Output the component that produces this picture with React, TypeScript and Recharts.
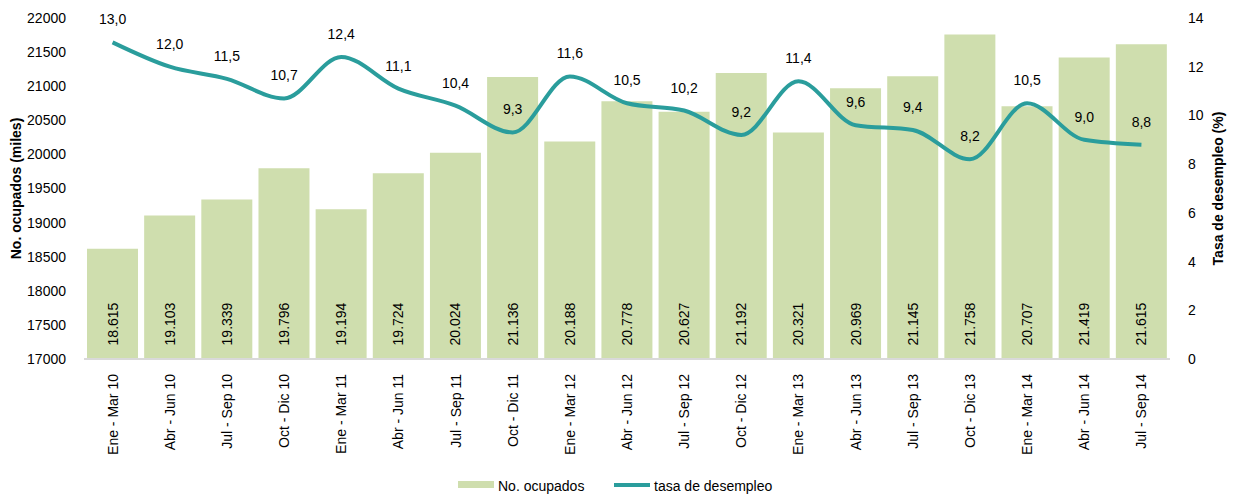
import React from "react";
import { ComposedChart, Bar, Line, XAxis, YAxis, LabelList, Legend } from "recharts";

const categories = [
  "Ene - Mar 10", "Abr - Jun 10", "Jul - Sep 10", "Oct - Dic 10",
  "Ene - Mar 11", "Abr - Jun 11", "Jul - Sep 11", "Oct - Dic 11",
  "Ene - Mar 12", "Abr - Jun 12", "Jul - Sep 12", "Oct - Dic 12",
  "Ene - Mar 13", "Abr - Jun 13", "Jul - Sep 13", "Oct - Dic 13",
  "Ene - Mar 14", "Abr - Jun 14", "Jul - Sep 14",
];
const ocupados = [18615, 19103, 19339, 19796, 19194, 19724, 20024, 21136, 20188, 20778, 20627, 21192, 20321, 20969, 21145, 21758, 20707, 21419, 21615];
const tasa = [13.0, 12.0, 11.5, 10.7, 12.4, 11.1, 10.4, 9.3, 11.6, 10.5, 10.2, 9.2, 11.4, 9.6, 9.4, 8.2, 10.5, 9.0, 8.8];
const leftTicks = [17000, 17500, 18000, 18500, 19000, 19500, 20000, 20500, 21000, 21500, 22000];
const rightTicks = [0, 2, 4, 6, 8, 10, 12, 14];

const data = categories.map((c, i) => ({ cat: c, ocupados: ocupados[i], tasa: tasa[i] }));

const FONT = "'Liberation Sans', Arial, sans-serif";
const FS = 14;
const BAR = "#cfdeae";
const LINE = "#2a9d9c";

const fmtThousands = (v: number) => {
  const s = String(v);
  return s.slice(0, s.length - 3) + "." + s.slice(s.length - 3);
};

const XTick = (props: any) => {
  const { x, y, payload } = props;
  return (
    <text x={x} y={y + 7} transform={`rotate(-90, ${x}, ${y + 7})`} textAnchor="end" dominantBaseline="central" fontSize={FS} fill="#000" fontFamily={FONT}>
      {payload.value}
    </text>
  );
};

const BarValue = (props: any) => {
  const { x, width, value } = props;
  const cx = x + width / 2;
  const cy = 324;
  return (
    <text x={cx} y={cy} transform={`rotate(-90, ${cx}, ${cy})`} textAnchor="middle" dominantBaseline="central" fontSize={FS} fill="#000" fontFamily={FONT}>
      {fmtThousands(value)}
    </text>
  );
};

const LineValue = (props: any) => {
  const { x, y, value } = props;
  return (
    <text x={x} y={y - 23} textAnchor="middle" dominantBaseline="central" fontSize={FS} fill="#000" fontFamily={FONT}>
      {value.toFixed(1).replace(".", ",")}
    </text>
  );
};

export default function App() {
  return (
    <div style={{ position: "absolute", left: 0, top: 0, width: 1238, height: 497, background: "#fff" }}>
      <ComposedChart width={1238} height={497} data={data} margin={{ top: 18, right: 0, bottom: 0, left: 0 }} barCategoryGap={3}>
        <XAxis
          dataKey="cat"
          interval={0}
          tick={<XTick />}
          tickLine={false}
          axisLine={{ stroke: "#d9d9d9", strokeWidth: 2 }}
          height={110}
        />
        <YAxis
          yAxisId="left"
          orientation="left"
          domain={[17000, 22000]}
          ticks={leftTicks}
          width={84}
          tickLine={false}
          axisLine={false}
          tickMargin={12}
          tick={{ fontSize: FS, fill: "#000", fontFamily: FONT }}
          label={{ value: "No. ocupados (miles)", angle: -90, position: "insideLeft", offset: 16, style: { fontSize: FS, fontWeight: "bold", fill: "#000", fontFamily: FONT, textAnchor: "middle" } }}
        />
        <YAxis
          yAxisId="right"
          orientation="right"
          domain={[0, 14]}
          ticks={rightTicks}
          width={68}
          tickLine={false}
          axisLine={false}
          tickMargin={12}
          tick={{ fontSize: FS, fill: "#000", fontFamily: FONT }}
          label={{ value: "Tasa de desempleo (%)", angle: -90, position: "insideRight", offset: 20, style: { fontSize: FS, fontWeight: "bold", fill: "#000", fontFamily: FONT, textAnchor: "middle" } }}
        />
        <Legend
          verticalAlign="bottom"
          align="center"
          height={28}
          wrapperStyle={{ left: 0, width: 1238, bottom: 0 }}
          content={() => (
            <div style={{ position: "relative", height: 28, fontFamily: FONT, fontSize: FS, color: "#000" }}>
              <span style={{ position: "absolute", left: 458, top: 12, width: 36, height: 7, background: BAR }} />
              <span style={{ position: "absolute", left: 498, top: 8, lineHeight: "18px" }}>No. ocupados</span>
              <span style={{ position: "absolute", left: 614, top: 14, width: 36, height: 4, background: LINE }} />
              <span style={{ position: "absolute", left: 654, top: 8, lineHeight: "18px" }}>tasa de desempleo</span>
            </div>
          )}
        />
        <Bar yAxisId="left" dataKey="ocupados" name="No. ocupados" fill={BAR} isAnimationActive={false}>
          <LabelList dataKey="ocupados" content={<BarValue />} />
        </Bar>
        <Line yAxisId="right" dataKey="tasa" name="tasa de desempleo" type="monotone" stroke={LINE} strokeWidth={4} dot={false} activeDot={false} isAnimationActive={false}>
          <LabelList dataKey="tasa" content={<LineValue />} />
        </Line>
      </ComposedChart>
    </div>
  );
}
